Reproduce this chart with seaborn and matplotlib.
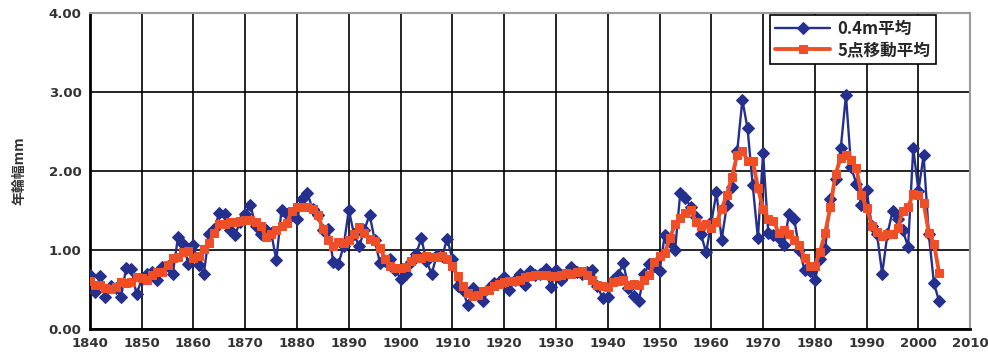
import matplotlib
matplotlib.use("Agg")
import matplotlib.pyplot as plt
from matplotlib.ticker import MultipleLocator, FormatStrFormatter
import numpy as np
import pandas as pd
import seaborn as sns

# Annual ring width (mm), 0.4 m height average, 1840-2004
years = list(range(1840, 2005))
ring_width = [
    0.68, 0.47, 0.67, 0.41, 0.55, 0.52, 0.41, 0.77, 0.76, 0.44,  # 1840s
    0.63, 0.70, 0.72, 0.62, 0.78, 0.80, 0.70, 1.16, 1.08, 0.83,  # 1850s
    1.06, 0.81, 0.70, 1.20, 1.27, 1.47, 1.46, 1.26, 1.19, 1.36,  # 1860s
    1.46, 1.57, 1.30, 1.20, 1.25, 1.22, 0.87, 1.51, 1.46, 1.45,  # 1870s
    1.40, 1.65, 1.72, 1.52, 1.45, 1.25, 1.27, 0.85, 0.83, 1.05,  # 1880s
    1.51, 1.20, 1.05, 1.25, 1.45, 1.13, 0.84, 0.86, 0.89, 0.75,  # 1890s
    0.64, 0.70, 0.85, 0.95, 1.15, 0.86, 0.70, 0.94, 0.92, 1.14,  # 1900s
    0.89, 0.55, 0.49, 0.30, 0.52, 0.45, 0.35, 0.52, 0.58, 0.60,  # 1910s
    0.66, 0.49, 0.62, 0.70, 0.56, 0.73, 0.68, 0.70, 0.76, 0.53,  # 1920s
    0.75, 0.62, 0.70, 0.78, 0.72, 0.70, 0.72, 0.75, 0.55, 0.39,  # 1930s
    0.40, 0.62, 0.68, 0.84, 0.52, 0.42, 0.35, 0.70, 0.82, 0.80,  # 1940s
    0.73, 1.19, 1.10, 1.00, 1.72, 1.66, 1.55, 1.42, 1.20, 0.97,  # 1950s
    1.35, 1.73, 1.13, 1.57, 1.80, 2.25, 2.90, 2.54, 1.82, 1.15,  # 1960s
    2.23, 1.22, 1.19, 1.15, 1.06, 1.46, 1.40, 1.00, 0.75, 0.73,  # 1970s
    0.62, 0.89, 1.02, 1.65, 1.90, 2.29, 2.96, 2.05, 1.84, 1.57,  # 1980s
    1.76, 1.30, 1.20, 0.70, 1.20, 1.49, 1.40, 1.25, 1.04, 2.29,  # 1990s
    1.75, 2.20, 1.20, 0.58, 0.35,                                # 2000s
]

# Five-point moving average of the same record
moving_avg = [
    0.61, 0.56, 0.56, 0.52, 0.51, 0.53, 0.60, 0.58, 0.60, 0.66,
    0.65, 0.62, 0.69, 0.72, 0.72, 0.81, 0.90, 0.91, 0.97, 0.99,
    0.90, 0.92, 1.01, 1.09, 1.22, 1.33, 1.33, 1.35, 1.35, 1.37,
    1.38, 1.38, 1.36, 1.31, 1.17, 1.21, 1.26, 1.30, 1.34, 1.49,
    1.54, 1.55, 1.55, 1.52, 1.44, 1.27, 1.13, 1.05, 1.10, 1.09,
    1.13, 1.21, 1.29, 1.22, 1.14, 1.11, 1.03, 0.89, 0.80, 0.77,
    0.77, 0.78, 0.86, 0.90, 0.90, 0.92, 0.91, 0.91, 0.92, 0.89,
    0.80, 0.67, 0.55, 0.46, 0.42, 0.43, 0.48, 0.50, 0.54, 0.57,
    0.59, 0.61, 0.61, 0.62, 0.66, 0.67, 0.69, 0.68, 0.68, 0.67,
    0.67, 0.68, 0.71, 0.70, 0.72, 0.73, 0.69, 0.62, 0.56, 0.54,
    0.53, 0.59, 0.61, 0.62, 0.56, 0.57, 0.56, 0.62, 0.68, 0.85,
    0.93, 0.96, 1.15, 1.33, 1.41, 1.47, 1.51, 1.36, 1.30, 1.33,
    1.28, 1.35, 1.52, 1.70, 1.93, 2.21, 2.26, 2.13, 2.13, 1.79,
    1.52, 1.39, 1.37, 1.22, 1.25, 1.21, 1.13, 1.07, 0.90, 0.80,
    0.80, 0.98, 1.22, 1.55, 1.96, 2.17, 2.21, 2.14, 2.04, 1.70,
    1.53, 1.31, 1.23, 1.18, 1.20, 1.21, 1.28, 1.49, 1.55, 1.71,
    1.70, 1.60, 1.22, 1.08, 0.71,
]

series_labels = ["0.4m平均", "5点移動平均"]
y_label = "年輪幅mm"

sns.set_style("white")
plt.rcParams["font.family"] = ["Noto Sans CJK JP", "DejaVu Sans"]

df = pd.DataFrame({"year": years, "width": ring_width, "ma": moving_avg})

fig = plt.figure(figsize=(9.88, 3.55), dpi=100)
ax = fig.add_axes([0.091, 0.073, 0.891, 0.890])

BLUE = "#25308e"
ORANGE = "#ef4f26"

sns.lineplot(data=df, x="year", y="width", ax=ax, color=BLUE, linewidth=1.7,
             marker="D", markersize=6, markeredgecolor=BLUE,
             label=series_labels[0], zorder=3)
sns.lineplot(data=df, x="year", y="ma", ax=ax, color=ORANGE, linewidth=2.8,
             marker="s", markersize=5.5, markeredgecolor=ORANGE,
             label=series_labels[1], zorder=4)

ax.set_xlim(1840, 2010)
ax.set_ylim(0, 4)
ax.xaxis.set_major_locator(MultipleLocator(10))
ax.yaxis.set_major_locator(MultipleLocator(1))
ax.yaxis.set_major_formatter(FormatStrFormatter("%.2f"))
ax.grid(True, color="black", linewidth=1.2)
ax.set_axisbelow(True)

for side in ("left", "bottom"):
    ax.spines[side].set_color("black")
    ax.spines[side].set_linewidth(2.0)
for side in ("top", "right"):
    ax.spines[side].set_color("#9a9a9a")
    ax.spines[side].set_linewidth(1.5)

ax.tick_params(axis="both", length=0, pad=6, labelsize=9.5, colors="#333333")
for lab in ax.get_xticklabels() + ax.get_yticklabels():
    lab.set_fontweight("bold")
    lab.set_family("DejaVu Sans")

ax.set_xlabel("")
ax.set_ylabel(y_label, fontsize=10, fontweight="bold", color="#333333",
              labelpad=16)

leg = ax.legend(loc="upper right", bbox_to_anchor=(0.947, 0.958),
                bbox_transform=fig.transFigure, borderaxespad=0,
                frameon=True, fancybox=False,
                edgecolor="black", framealpha=1, borderpad=0.3,
                handlelength=3.3, handletextpad=0.45, labelspacing=0.2,
                prop={"size": 12, "weight": "bold"})
leg.get_frame().set_linewidth(1.2)

fig.savefig("out.png", dpi=100)
